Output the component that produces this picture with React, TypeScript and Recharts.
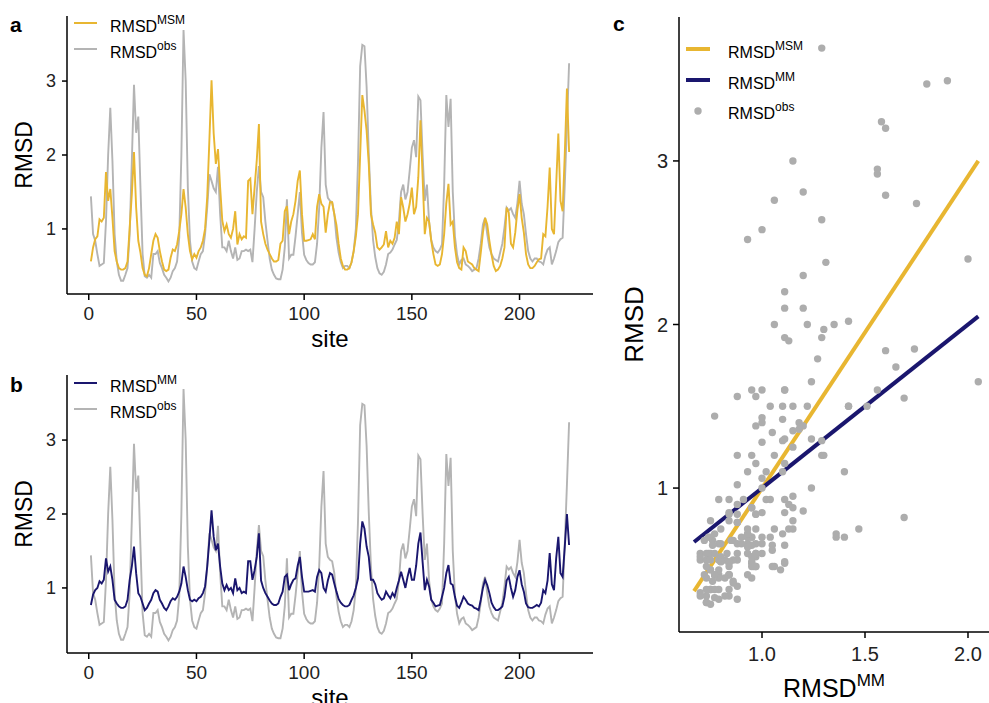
import React from 'react';
import { LineChart, Line, XAxis, YAxis, ComposedChart, Scatter, Label } from 'recharts';

// per-site RMSD values, sites 1..223
const obs = [
  1.44, 0.93, 0.84, 0.66, 0.5, 0.52, 0.54, 1.1, 2.0, 2.64,
  1.92, 0.93, 0.56, 0.38, 0.3, 0.3, 0.38, 0.47, 0.93, 1.92,
  2.95, 2.3, 2.52, 1.56, 0.66, 0.36, 0.34, 0.38, 0.34, 0.66,
  0.66, 0.7, 0.54, 0.47, 0.38, 0.34, 0.29, 0.34, 0.43, 0.47,
  0.56, 0.88, 2.0, 3.69, 3.0, 1.56, 0.84, 0.56, 0.47, 0.45,
  0.56, 0.66, 0.7, 0.93, 1.29, 1.74, 1.65, 1.55, 1.5, 1.84,
  1.2, 0.75, 0.75, 0.7, 0.84, 0.7, 0.6, 0.75, 0.58, 0.6,
  0.7, 0.7, 0.72, 0.7, 0.72, 0.55, 1.0, 1.5, 1.85, 1.5,
  1.43, 1.1, 0.84, 0.6, 0.45, 0.38, 0.33, 0.32, 0.32, 0.45,
  0.75, 1.4, 0.6, 0.65, 0.65, 0.9, 1.2, 1.5, 0.95, 0.65,
  0.58, 0.54, 0.52, 0.52, 0.55, 0.8, 1.3, 2.1, 2.58, 1.6,
  1.42, 1.38, 1.36, 1.2, 0.88, 0.68, 0.55, 0.47, 0.5, 0.5,
  0.47, 0.55, 0.7, 1.0, 1.9, 3.2, 3.49, 3.47, 2.92, 2.02,
  1.3, 0.85, 0.62, 0.47, 0.4, 0.38, 0.42, 0.52, 0.66, 0.68,
  0.72, 0.79, 0.85, 1.1, 1.5, 1.6, 1.4, 1.5, 1.79, 2.1,
  2.2, 1.97, 2.79, 2.74, 2.0, 1.38, 1.6, 1.1, 0.85, 0.75,
  0.7, 0.68, 0.72, 0.79, 1.6, 2.81, 2.38, 2.76, 1.5, 0.9,
  0.65, 0.52, 0.58, 0.6, 0.52, 0.5, 0.47, 0.43, 0.45, 0.47,
  0.6, 0.8, 1.06, 1.15, 0.93, 0.75, 0.66, 0.6, 0.58, 0.56,
  0.68, 0.8, 1.02, 1.29, 1.25, 1.28, 1.2, 1.15, 1.35, 1.65,
  1.34, 1.2, 0.93, 0.7, 0.6, 0.56, 0.6, 0.6, 0.56, 0.55,
  0.52, 0.64, 0.72, 0.75, 0.52, 0.6, 0.7, 0.82, 0.86, 0.88,
  1.6, 2.4, 3.24,
];

const msm = [
  0.56, 0.75, 0.86, 0.9, 1.13, 1.1, 1.15, 1.77, 1.38, 1.54,
  1.15, 0.7, 0.56, 0.47, 0.45, 0.45, 0.47, 0.56, 1.02, 1.47,
  2.04, 1.29, 0.84, 0.68, 0.47, 0.38, 0.36, 0.47, 0.66, 0.84,
  0.93, 0.88, 0.7, 0.56, 0.45, 0.43, 0.45, 0.61, 0.72, 0.7,
  0.79, 0.97, 1.2, 1.54, 1.29, 0.93, 0.7, 0.59, 0.66, 0.61,
  0.7, 0.75, 0.84, 1.0, 1.43, 2.2, 3.01, 2.29, 1.88, 2.08,
  1.56, 1.11, 0.97, 1.06, 0.93, 0.88, 1.0, 1.24, 0.79, 0.93,
  0.86, 0.9, 0.88, 1.65, 1.68, 1.2, 1.56, 1.93, 2.42, 1.1,
  0.93, 0.8, 0.72, 0.66, 0.6, 0.56, 0.56, 0.58, 0.8, 0.84,
  1.24, 1.31, 0.93, 1.1, 1.2, 1.38, 1.65, 1.79, 1.2, 0.84,
  0.84, 0.85, 0.86, 0.93, 0.86, 1.3, 1.47, 1.34, 1.3, 0.95,
  1.2, 1.36, 1.36, 1.2, 1.05, 0.8, 0.6, 0.5, 0.45, 0.45,
  0.47, 0.55, 0.7, 0.9, 1.2, 2.0, 2.81, 2.6, 2.33, 1.88,
  1.2, 1.06, 0.95, 0.75, 0.72, 0.75, 0.79, 0.97, 0.75, 0.84,
  0.8, 0.88, 1.1, 0.93, 1.43, 1.29, 1.1, 1.2, 1.34, 1.56,
  1.2, 1.3, 1.7, 2.47, 1.7, 0.93, 1.15, 1.1, 0.84, 0.66,
  0.52, 0.5, 0.52, 0.66, 0.93, 1.35, 1.61, 1.06, 1.1, 0.75,
  0.55, 0.47, 0.45, 0.75, 0.7, 0.56, 0.54, 0.52, 0.47, 0.45,
  0.43, 0.68, 0.95, 1.15, 1.06, 0.84, 0.65, 0.5, 0.43, 0.45,
  0.5, 0.6, 0.75, 1.29, 1.22, 0.8, 0.75, 0.95, 1.25, 1.47,
  1.15, 0.95, 0.66, 0.52, 0.47, 0.47, 0.5, 0.55, 0.59, 0.6,
  0.93, 0.9, 1.3, 1.83, 1.0, 0.93, 1.6, 2.29, 1.38, 1.24,
  2.02, 2.9, 2.04,
];

const mm = [
  0.77, 0.91, 0.97, 1.0, 1.09, 1.06, 1.11, 1.4, 1.22, 1.29,
  1.11, 0.84, 0.79, 0.75, 0.73, 0.73, 0.75, 0.84, 1.11, 1.29,
  1.56, 1.2, 0.93, 0.88, 0.79, 0.7, 0.73, 0.79, 0.84, 0.93,
  0.97, 0.95, 0.84, 0.79, 0.73, 0.7, 0.75, 0.82, 0.86, 0.84,
  0.88, 0.95, 1.06, 1.29, 1.15, 0.97, 0.84, 0.82, 0.84, 0.82,
  0.86, 0.88, 0.93, 1.02, 1.29, 1.65, 2.05, 1.69, 1.51, 1.6,
  1.29, 1.06, 0.97, 1.04, 0.97, 1.0, 0.93, 1.13, 0.97, 1.0,
  0.93, 0.95, 0.93, 1.36, 1.36, 1.11, 1.24, 1.42, 1.74, 1.1,
  1.0, 0.93, 0.88, 0.83, 0.79, 0.77, 0.77, 0.79, 0.88, 0.95,
  1.15, 1.18, 0.97, 1.05, 1.11, 1.13, 1.3, 1.42, 1.15, 0.95,
  0.95, 0.95, 0.96, 0.97, 0.95, 1.15, 1.24, 1.2, 1.0, 0.95,
  1.1, 1.2, 1.18, 1.06, 0.95, 0.85, 0.8, 0.77, 0.75, 0.75,
  0.77, 0.84, 0.9, 1.0, 1.13, 1.6, 1.9, 1.8, 1.56, 1.42,
  1.11, 1.11, 1.05, 0.93, 0.88, 0.84, 0.86, 0.95, 0.9, 0.86,
  0.93, 0.88, 1.0, 1.1, 1.22, 1.11, 1.0, 1.15, 1.27, 1.11,
  1.11, 1.3, 1.6, 1.75, 1.35, 0.97, 1.11, 1.02, 0.84, 0.8,
  0.75, 0.76, 0.77, 0.88, 1.0, 1.2, 1.31, 1.06, 1.04, 0.88,
  0.76, 0.73, 0.8, 0.88, 0.84, 0.79, 0.77, 0.76, 0.73, 0.72,
  0.7, 0.84, 1.0, 1.11, 1.04, 0.93, 0.8, 0.74, 0.7, 0.7,
  0.72, 0.75, 0.88, 1.1, 1.15, 1.0, 0.88, 0.97, 1.15, 1.24,
  1.05, 0.95, 0.79, 0.74, 0.73, 0.73, 0.75, 0.77, 0.75, 0.8,
  0.97, 0.93, 1.1, 1.47, 1.05, 0.97, 1.4, 1.69, 1.2, 1.15,
  1.56, 2.0, 1.58,
];

const siteTicks = [0, 50, 100, 150, 200];
const rmsdTicks = [1, 2, 3];
const mmTicks = [1.0, 1.5, 2.0];

// linear fits shown in panel c (end points over the RMSD^MM range)
const fitX = [0.67, 2.05];
const fitMSM = [0.37, 3.0];
const fitMM = [0.67, 2.05];

const YELLOW = '#E8B631';
const NAVY = '#1A166E';
const GREY = '#B4B4B4';
const DOT = '#ADADAD';
const INK = '#222';
const FONT = '"Liberation Sans", Arial, Helvetica, sans-serif';

const siteRows = obs.map((v, i) => ({ site: i + 1, obs: v, msm: msm[i], mm: mm[i] }));
const scatterRows = obs.map((v, i) => ({ x: mm[i], y: v }));
const msmFitRows = fitX.map((x, i) => ({ x, y: fitMSM[i] }));
const mmFitRows = fitX.map((x, i) => ({ x, y: fitMM[i] }));

const axisStroke = { stroke: '#000', strokeWidth: 1.5 };

const yTitle = (size: number, dx: number) => (props: any) => {
  const vb = props.viewBox || {};
  const x = vb.x + dx;
  const y = vb.y + vb.height / 2;
  return (
    <text x={x} y={y} transform={`rotate(-90 ${x} ${y})`} textAnchor='middle'
      fontSize={size} fontFamily={FONT} fill='#000'>
      RMSD
    </text>
  );
};

const siteTitle = (props: any) => {
  const vb = props.viewBox || {};
  return (
    <text x={vb.x + vb.width / 2} y={vb.y + 53} textAnchor='middle' fontSize={24}
      fontFamily={FONT} fill='#000'>
      site
    </text>
  );
};

const mmTitle = (props: any) => {
  const vb = props.viewBox || {};
  return (
    <text x={vb.x + vb.width / 2} y={vb.y + 65} textAnchor='middle' fontSize={25}
      fontFamily={FONT} fill='#000'>
      RMSD
      <tspan dy={-11} fontSize={17}>MM</tspan>
    </text>
  );
};

const SitePanel = ({ top, height, marginTop, modelKey, color }: { top: number; height: number; marginTop: number; modelKey: string; color: string }) => (
  <div style={{ position: 'absolute', left: 0, top }}>
    <LineChart width={600} height={height} data={siteRows}
      margin={{ top: marginTop, right: 7, bottom: 0, left: 0 }}>
      <XAxis dataKey='site' type='number' domain={[-10.1, 234.1]} allowDataOverflow
        ticks={siteTicks} height={height - marginTop - 278} tickSize={6} tickMargin={7}
        axisLine={axisStroke} tickLine={axisStroke}
        tick={{ fill: INK, fontSize: 19, fontFamily: FONT }}>
        <Label content={siteTitle} />
      </XAxis>
      <YAxis type='number' domain={[0.12, 3.88]} allowDataOverflow ticks={rmsdTicks}
        width={67} tickSize={5} tickMargin={6}
        axisLine={axisStroke} tickLine={axisStroke}
        tick={{ fill: INK, fontSize: 18, fontFamily: FONT }}>
        <Label content={yTitle(23, 32)} />
      </YAxis>
      <Line type='linear' dataKey='obs' stroke={GREY} strokeWidth={1.9} dot={false}
        isAnimationActive={false} />
      <Line type='linear' dataKey={modelKey} stroke={color} strokeWidth={1.9} dot={false}
        isAnimationActive={false} />
    </LineChart>
  </div>
);

const LegendText = ({ x, y, sup }: { x: number; y: number; sup: string }) => (
  <text x={x} y={y} fontSize={16} fontFamily={FONT} fill='#000'>
    RMSD
    <tspan dy={-8} fontSize={12}>{sup}</tspan>
  </text>
);

const App = () => {
  return (
    <div style={{ position: 'absolute', left: 0, top: 0, width: 989, height: 703, overflow: 'hidden', background: '#fff' }}>
      <SitePanel top={0} height={358} marginTop={16} modelKey='msm' color={YELLOW} />
      <SitePanel top={360} height={350} marginTop={15} modelKey='mm' color={NAVY} />

      <div style={{ position: 'absolute', left: 610, top: 0 }}>
        <ComposedChart width={379} height={703} margin={{ top: 17, right: 0, bottom: 0, left: 0 }}>
          <XAxis dataKey='x' type='number' domain={[0.597, 2.102]} allowDataOverflow
            ticks={mmTicks} tickFormatter={(v: number) => v.toFixed(1)} height={71}
            tickSize={6} tickMargin={9} axisLine={axisStroke} tickLine={axisStroke}
            tick={{ fill: INK, fontSize: 20, fontFamily: FONT }}>
            <Label content={mmTitle} />
          </XAxis>
          <YAxis dataKey='y' type='number' domain={[0.12, 3.88]} allowDataOverflow
            ticks={rmsdTicks} width={69} tickSize={6} tickMargin={5}
            axisLine={axisStroke} tickLine={axisStroke}
            tick={{ fill: INK, fontSize: 20, fontFamily: FONT }}>
            <Label content={yTitle(26, 33)} />
          </YAxis>
          <Scatter data={scatterRows} dataKey='y' isAnimationActive={false}
            shape={(p: any) => <circle cx={p.cx} cy={p.cy} r={3.7} fill={DOT} />} />
          <Line data={msmFitRows} dataKey='y' type='linear' stroke={YELLOW} strokeWidth={4}
            dot={false} isAnimationActive={false} />
          <Line data={mmFitRows} dataKey='y' type='linear' stroke={NAVY} strokeWidth={4}
            dot={false} isAnimationActive={false} />
        </ComposedChart>
      </div>

      <svg width={989} height={703} style={{ position: 'absolute', left: 0, top: 0, pointerEvents: 'none' }}>
        <g fontFamily={FONT} fontWeight='bold' fontSize={21} fill='#000'>
          <text x={10} y={32}>a</text>
          <text x={10} y={392}>b</text>
          <text x={613} y={31}>c</text>
        </g>

        <line x1={74} x2={97} y1={23} y2={23} stroke={YELLOW} strokeWidth={2} />
        <LegendText x={110} y={32} sup='MSM' />
        <line x1={74} x2={97} y1={49} y2={49} stroke={GREY} strokeWidth={2} />
        <LegendText x={110} y={58} sup='obs' />

        <line x1={74} x2={97} y1={383} y2={383} stroke={NAVY} strokeWidth={2} />
        <LegendText x={110} y={392} sup='MM' />
        <line x1={74} x2={97} y1={409} y2={409} stroke={GREY} strokeWidth={2} />
        <LegendText x={110} y={418} sup='obs' />

        <line x1={686} x2={710} y1={49} y2={49} stroke={YELLOW} strokeWidth={4} />
        <LegendText x={728} y={58} sup='MSM' />
        <line x1={686} x2={710} y1={80} y2={80} stroke={NAVY} strokeWidth={4} />
        <LegendText x={728} y={89} sup='MM' />
        <circle cx={698} cy={111} r={3.7} fill={DOT} />
        <LegendText x={728} y={119} sup='obs' />
      </svg>
    </div>
  );
};

export default App;
